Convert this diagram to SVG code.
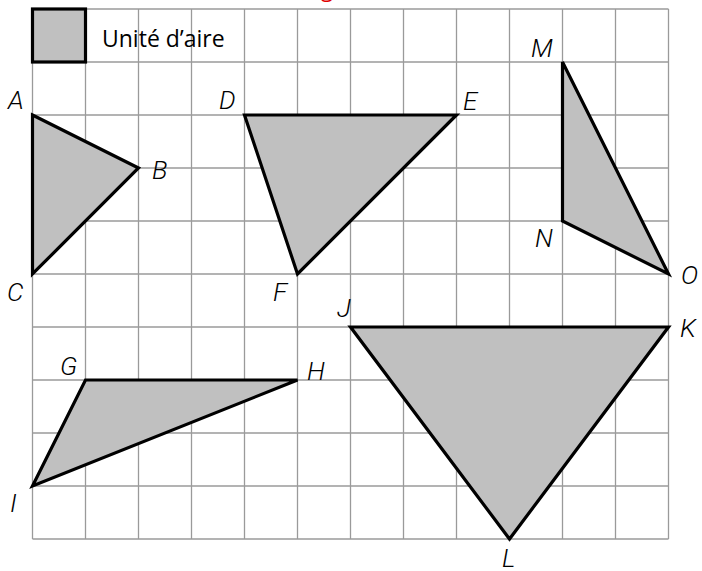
<svg xmlns="http://www.w3.org/2000/svg" width="702" height="571" viewBox="0 0 702 571">
<style>
.grid{stroke:#9a9a9a;stroke-width:1.3;fill:none}
.tri{fill:#c0c0c0;stroke:#000;stroke-width:3.2;stroke-linejoin:miter}
.lbl{font-family:Roboto,"Open Sans",sans-serif;font-style:italic;font-weight:300;font-size:26px;fill:#000}
.leg{font-family:"Open Sans","Liberation Sans",sans-serif;font-size:23px;fill:#000}
</style>
<rect width="702" height="571" fill="#fff"/>
<text x="321" y="-3" font-family="Open Sans, sans-serif" font-size="22" fill="#e00000">g</text>
<g id="grid" class="grid">
<path d="M32.5 9V539M85.5 9V539M138.5 9V539M191.5 9V539M244.5 9V539M297.5 9V539M350.5 9V539M403.5 9V539M456.5 9V539M509.5 9V539M562.5 9V539M615.5 9V539M668.5 9V539"/>
<path d="M32.5 9H668.5M32.5 62H668.5M32.5 115H668.5M32.5 168H668.5M32.5 221H668.5M32.5 274H668.5M32.5 327H668.5M32.5 380H668.5M32.5 433H668.5M32.5 486H668.5M32.5 539H668.5"/>
</g>
<g id="legend">
<rect x="32.5" y="9" width="53" height="53" class="tri"/>
<text x="102" y="47" class="leg">Unité d’aire</text>
</g>
<g id="ABC">
<polygon class="tri" points="32.5,115 138.5,168 32.5,274"/>
<text x="8" y="109" class="lbl">A</text>
<text x="152" y="179" class="lbl">B</text>
<text x="7" y="301" class="lbl">C</text>
</g>
<g id="DEF">
<polygon class="tri" points="244.5,115 456.5,115 297.5,274"/>
<text x="219" y="109" class="lbl">D</text>
<text x="463" y="110" class="lbl">E</text>
<text x="273" y="301" class="lbl">F</text>
</g>
<g id="MNO">
<polygon class="tri" points="562.5,62 562.5,221 668.5,274"/>
<text x="531" y="57" class="lbl">M</text>
<text x="535" y="247" class="lbl">N</text>
<text x="681" y="284" class="lbl">O</text>
</g>
<g id="JKL">
<polygon class="tri" points="350.5,327 668.5,327 509.5,539"/>
<text x="337" y="317" class="lbl">J</text>
<text x="680" y="337" class="lbl">K</text>
<text x="502" y="567" class="lbl">L</text>
</g>
<g id="GHI">
<polygon class="tri" points="85.5,380 297.5,380 32.5,486"/>
<text x="60" y="375" class="lbl">G</text>
<text x="307" y="380" class="lbl">H</text>
<text x="10" y="512" class="lbl">I</text>
</g>
</svg>
